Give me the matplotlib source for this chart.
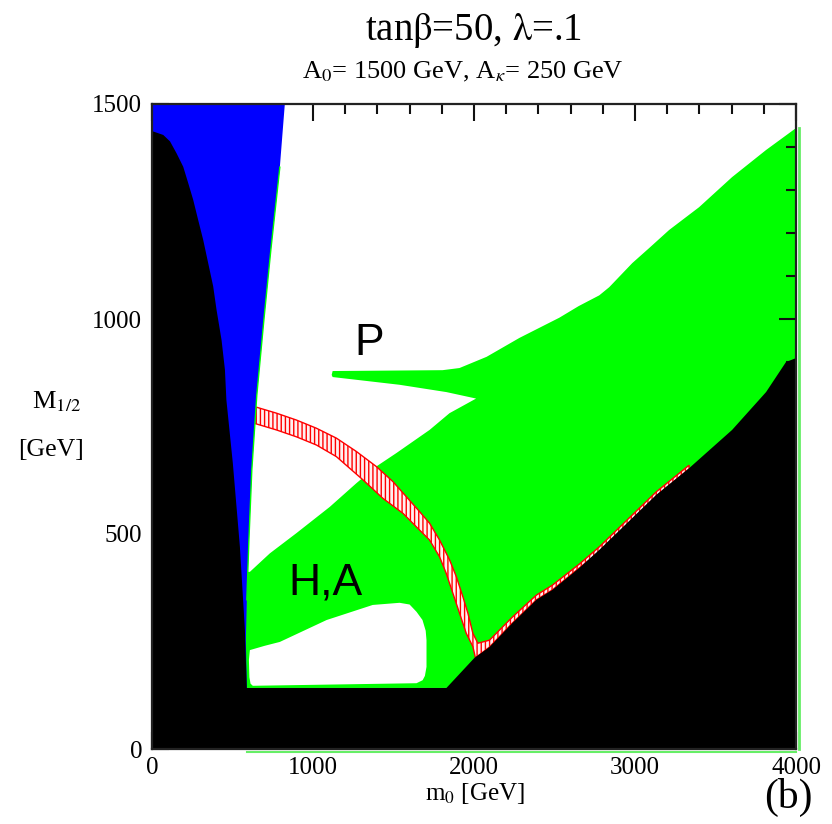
import matplotlib
matplotlib.use("Agg")
import matplotlib.pyplot as plt
import matplotlib.transforms as mtransforms
from matplotlib.patches import Polygon
from matplotlib.ticker import MultipleLocator

plt.rcParams['mathtext.fontset'] = 'stix'

# ---- data (m0, M1/2) boundaries ----
black_left_x = [0, 0, 8, 70, 112, 153, 194, 225, 256, 287, 318, 349, 380, 401, 432, 453,
                462, 502, 546, 577, 589]
black_left_y = [0, 1436, 1436, 1428, 1413, 1385, 1354, 1316, 1277, 1230, 1184, 1130, 1076,
                1021, 951, 882, 812, 665, 470, 277, 142]
black_right_x = [1829, 2003, 2096, 2239, 2388, 2487, 2654, 2778, 3132, 3336, 3603, 3814,
                 3938, 4000, 4000]
black_right_y = [142, 212, 237, 293, 347, 370, 421, 463, 591, 653, 742, 830,
                 900, 909, 0]

blue_right_x = [825, 794, 738, 695, 651, 620, 602, 589, 583, 589]
blue_right_y = [1500, 1353, 1160, 998, 823, 649, 486, 347, 253, 142]

green_x = [4000, 3814, 3603, 3398, 3212, 3088, 2983, 2840, 2778, 2650, 2530, 2282, 2078,
           1910, 1805, 1122, 1116, 1122, 1538, 1829, 2013, 1848, 1724, 1517, 1393, 1269,
           1104, 897, 732, 608, 585, 560, 560, 4000]
green_y = [1444, 1393, 1330, 1260, 1207, 1165, 1130, 1074, 1055, 1030, 1003, 956, 912,
           886, 881, 879, 870, 865, 847, 830, 815, 781, 742, 688, 657, 618,
           563, 502, 455, 412, 412, 412, 142, 142]

island_x = [602, 608, 700, 794, 1085, 1371, 1538, 1600, 1643, 1680, 1700, 1705, 1705,
            1695, 1681, 1643, 626, 612, 605]
island_y = [207, 230, 240, 249, 300, 335, 340, 336, 319, 300, 275, 253, 191,
            170, 160, 153, 147, 152, 167]

band_outer_x = [639, 773, 897, 1021, 1145, 1269, 1393, 1496, 1579, 1662, 1724, 1786,
                1848, 1890, 1931, 1962, 1993, 2024]
band_outer_y = [796, 781, 765, 746, 723, 692, 657, 622, 587, 552, 525, 486,
                440, 401, 354, 316, 269, 246]
band_diag_top_x = [2096, 2239, 2388, 2487, 2654, 2778, 3132, 3336]
band_diag_top_y = [253, 307, 358, 381, 430, 470, 598, 660]
band_diag_bot_x = [3336, 3132, 2778, 2654, 2487, 2388, 2239, 2096, 2009]
band_diag_bot_y = [651, 588, 458, 421, 370, 347, 293, 237, 212]
band_inner_x = [1993, 1952, 1910, 1869, 1827, 1786, 1724, 1641, 1559, 1434, 1310, 1145,
                1021, 897, 773, 639]
band_inner_y = [238, 269, 316, 362, 409, 447, 486, 517, 548, 583, 626, 680,
                707, 726, 742, 757]

x_ticks = [0, 1000, 2000, 3000, 4000]
y_ticks = [0, 500, 1000, 1500]

fig = plt.figure(figsize=(8.32, 8.24), dpi=100)
ax = fig.add_axes([152/832, 75/824, 644/832, 645/824])
ax.set_xlim(0, 4000)
ax.set_ylim(0, 1500)

# green region
ax.add_patch(Polygon(list(zip(green_x, green_y)), closed=True, fc='#00ff00', ec='none', zorder=1))
# white island
ax.add_patch(Polygon(list(zip(island_x, island_y)), closed=True, fc='white', ec='none', zorder=2))
# red hatched band
band_x = band_outer_x + band_diag_top_x + band_diag_bot_x + band_inner_x
band_y = band_outer_y + band_diag_top_y + band_diag_bot_y + band_inner_y
ax.add_patch(Polygon(list(zip(band_x, band_y)), closed=True, fc='#fff0f0', ec='#ff0000',
                     hatch='||||', lw=1.0, zorder=3))
# blue region
bx = [0] + blue_right_x + [0]
by = [1500] + blue_right_y + [142]
ax.add_patch(Polygon(list(zip(bx, by)), closed=True, fc='#0000ff', ec='none', zorder=4))
# green fringe along blue edge
ax.plot(blue_right_x[1:8], blue_right_y[1:8], color='#00ff00', lw=1.0, zorder=4.5)
# black region
kx = black_left_x + black_right_x
ky = black_left_y + black_right_y
ax.add_patch(Polygon(list(zip(kx, ky)), closed=True, fc='black', ec='none', zorder=5))

# thin green lines just outside the frame
ln, = ax.plot([4000, 4000], [0, 1444], color='#66ee66', lw=2.0, clip_on=False, zorder=0.5)
ln.set_transform(ax.transData + mtransforms.ScaledTranslation(3/100, 0, fig.dpi_scale_trans))
ln, = ax.plot([589, 4000], [0, 0], color='#66ee66', lw=1.5, clip_on=False, zorder=0.5)
ln.set_transform(ax.transData + mtransforms.ScaledTranslation(0, -3/100, fig.dpi_scale_trans))

# labels in plot
ax.text(1352, 944, 'P', fontsize=32, family='Liberation Sans', ha='center', va='center', zorder=6)
ax.text(1079, 386, 'H,A', fontsize=32, family='Liberation Sans', ha='center', va='center', zorder=6)

# axes styling
ax.set_xticks(x_ticks)
ax.set_yticks(y_ticks)
ax.set_xticklabels([str(v) for v in x_ticks])
ax.set_yticklabels([str(v) for v in y_ticks])
ax.xaxis.set_minor_locator(MultipleLocator(200))
ax.yaxis.set_minor_locator(MultipleLocator(100))
ax.tick_params(which='both', direction='in', top=True, right=True, width=1.5, color='#111111')
ax.tick_params(which='major', length=12.5, labelsize=18)
ax.tick_params(axis='x', which='major', pad=6)
ax.tick_params(axis='y', which='major', pad=7)
ax.tick_params(which='minor', length=7)
for lab in ax.get_xticklabels() + ax.get_yticklabels():
    lab.set_family('Liberation Serif')
for s in ax.spines.values():
    s.set_linewidth(1.6)
    s.set_color('#222222')
    s.set_zorder(7)

fig.text(474/832, 1 - 31/824, r'tan$\mathrm{\beta}$=50, $\mathrm{\lambda}$=.1', fontsize=28,
         family='Liberation Serif', ha='center', va='center')
fig.text(463/832, 1 - 72/824, r'A$_0$= 1500 GeV, A$_\kappa$= 250 GeV', fontsize=19,
         family='Liberation Serif', ha='center', va='center')
fig.text(57/832, 1 - 402/824, r'M$_{1/2}$', fontsize=19, family='Liberation Serif',
         ha='center', va='center')
fig.text(51/832, 1 - 450/824, '[GeV]', fontsize=18.5, family='Liberation Serif',
         ha='center', va='center')
fig.text(475/832, 1 - 794/824, r'm$_0$ [GeV]', fontsize=18, family='Liberation Serif',
         ha='center', va='center')
fig.text(788/832, 1 - 797/824, '(b)', fontsize=30, family='Liberation Serif',
         ha='center', va='center')

fig.savefig('out.png', dpi=100)
